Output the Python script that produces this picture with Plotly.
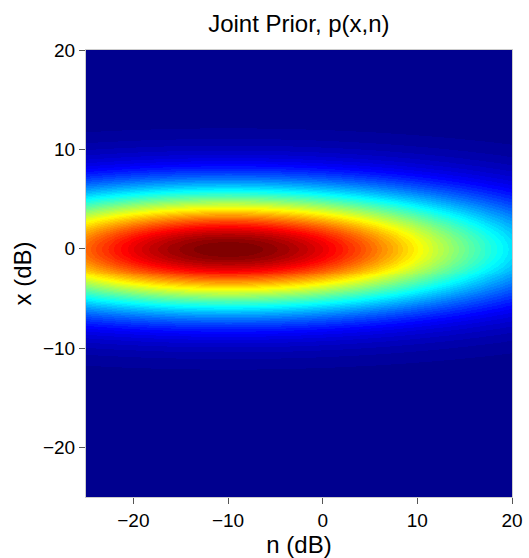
import numpy as np
import plotly.graph_objects as go

# Grid axes (dB)
n_axis = np.linspace(-25, 20, 226).tolist()
x_axis = np.linspace(-25, 20, 226).tolist()

# Joint prior parameters (Gaussian in dB domain)
mean_n, mean_x = -10.0, 0.0
std_n, std_x = 20.7, 4.2

N, X = np.meshgrid(np.array(n_axis), np.array(x_axis))
p = np.exp(-0.5 * (((N - mean_n) / std_n) ** 2 + ((X - mean_x) / std_x) ** 2))
p = p / (2 * np.pi * std_n * std_x)

# MATLAB-style jet with 64 discrete levels
anchors = [(0.0, (0, 0, 143)), (0.125, (0, 0, 255)), (0.375, (0, 255, 255)),
           (0.625, (255, 255, 0)), (0.875, (255, 0, 0)), (1.0, (128, 0, 0))]

def jet_color(t):
    for (t0, c0), (t1, c1) in zip(anchors[:-1], anchors[1:]):
        if t <= t1:
            f = (t - t0) / (t1 - t0)
            return tuple(round(a + (b - a) * f) for a, b in zip(c0, c1))
    return anchors[-1][1]

L = 64
jet = []
for i in range(L):
    c = jet_color(i / (L - 1))
    s = "rgb(%d,%d,%d)" % c
    jet.append([i / L, s])
    jet.append([(i + 1) / L, s])

fig = go.Figure(
    go.Heatmap(
        x=n_axis, y=x_axis, z=p,
        colorscale=jet, zmin=0, zmax=float(p.max()),
        showscale=False, zsmooth="best",
    )
)

font = "Liberation Sans, Arial, sans-serif"
fig.update_layout(
    width=529, height=558,
    margin=dict(l=86, r=17, t=50, b=61, autoexpand=False),
    paper_bgcolor="white", plot_bgcolor="white",
    font=dict(family=font, size=19, color="black"),
    title=dict(text="Joint Prior, p(x,n)", x=0.565, xanchor="center",
               y=0.957, yanchor="middle", font=dict(size=24, family=font)),
)
fig.update_xaxes(
    range=[-25, 20], tickvals=[-20, -10, 0, 10, 20],
    ticks="outside", ticklen=6, tickcolor="#555", automargin=False,
    title=dict(text="n (dB)", font=dict(size=24), standoff=0),
    showgrid=False, zeroline=False,
    showline=True, linecolor="#ccc", mirror=True,
)
fig.update_yaxes(
    range=[-25, 20], tickvals=[-20, -10, 0, 10, 20],
    ticks="outside", ticklen=6, tickcolor="#555", automargin=False,
    title=dict(text="x (dB)", font=dict(size=24), standoff=4),
    showgrid=False, zeroline=False,
    showline=True, linecolor="#ccc", mirror=True,
)

fig.write_html("out.html")
